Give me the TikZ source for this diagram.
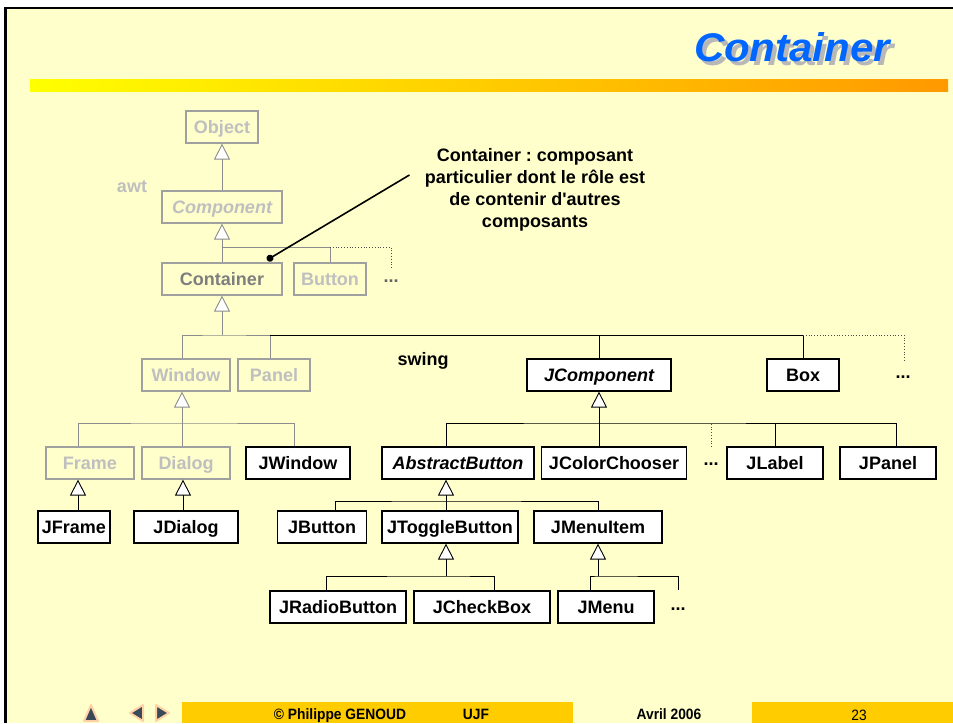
\documentclass[tikz,border=0pt]{standalone}
\usepackage{fontspec}
\setmainfont{Liberation Sans}
\newfontfamily\titlefont[FakeStretch=1.05]{Liberation Sans}
\newfontfamily\footfont[FakeStretch=0.92]{Liberation Sans}
\usetikzlibrary{arrows.meta,positioning,calc}
\definecolor{slide}{HTML}{FFFFCC}
\definecolor{awtline}{HTML}{8C8C8C}
\definecolor{awtframe}{HTML}{A0A0A0}
\definecolor{awttext}{HTML}{BFBFBF}
\definecolor{titleblue}{HTML}{0066FF}
\definecolor{titleshade}{HTML}{B8B8B8}
\definecolor{footbar}{HTML}{FFCC00}
\definecolor{navgray}{HTML}{3B4A58}
\newcommand{\boxfont}{\fontsize{18}{22}\selectfont\bfseries}
\newcommand{\footsize}{\footfont\fontsize{15}{15}\selectfont}
\frenchspacing

\begin{document}
\begin{tikzpicture}
[x=1pt,y=-1pt,
every node/.style={font=\boxfont},
awtbox/.style={draw=awtframe,line width=1.2pt,text=awttext,
minimum height=32pt,inner sep=0pt,text height=13pt,text depth=1pt},
swingbox/.style={draw=black,fill=white,line width=1.2pt,
minimum height=32pt,inner sep=0pt,text height=13pt,text depth=1pt},
inh/.style={-{Triangle[width=16pt,length=16pt,fill=white]}},
awtlink/.style={draw=awtline,line width=0.9pt},
swlink/.style={draw=black,line width=0.9pt},
dotlink/.style={draw=black!70,dotted,line width=0.8pt},
foot/.style={anchor=base,font=\footsize\bfseries},
navtip/.style={draw=orange!35,line width=2pt,fill=navgray,line join=round}]
\useasboundingbox (0,0) rectangle (953,723);
\fill[white] (0,0) rectangle (953,723);
\fill[slide] (6,9) rectangle (953,723);
\draw[line width=2.5pt] (5.5,723) -- (5.5,8) -- (953,8);
\shade[left color=yellow,right color={rgb,255:red,255;green,153;blue,0}] (30,79) rectangle (948,91);

\node[text=titleblue,font=\titlefont\fontsize{40}{40}\selectfont\bfseries\itshape] (title) at (792,49)
{\rlap{\kern4pt\raisebox{-4pt}{\color{titleshade}Container}}Container};

\node (obj) at (222,127) [awtbox,minimum width=72pt] {Object};
\node (comp) at (222,207) [awtbox,minimum width=120pt] {\itshape Component};
\node (cont) at (222,279) [awtbox,minimum width=120pt,text=awtline!90!black] {Container};
\node (button) at (330,279) [awtbox,minimum width=72pt] {Button};
\node (awtdots) at (391,281) [text=awtline!70!black] {...};
\node (awt) at (132,187) [text=awttext] {awt};

\node (window) at (186,375) [awtbox,minimum width=88pt] {Window};
\node (panel) at (274,375) [awtbox,minimum width=72pt] {Panel};
\node (swing) at (423,361) {swing};
\node (jcomp) at (599,375) [swingbox,minimum width=144pt] {\itshape JComponent};
\node (box) at (803,375) [swingbox,minimum width=72pt] {Box};
\node (swdots) at (903,377) {...};

\node (frame) at (90,463) [awtbox,minimum width=88pt] {Frame};
\node (dialog) at (186,463) [awtbox,minimum width=88pt] {Dialog};
\node (jwindow) at (298,463) [swingbox,minimum width=104pt] {JWindow};
\node (abutton) at (458,463) [swingbox,minimum width=152pt] {\itshape AbstractButton};
\node (jcolor) at (614,463) [swingbox,minimum width=145pt] {JColorChooser};
\node (jcdots) at (711,464) {...};
\node (jlabel) at (775,463) [swingbox,minimum width=96pt] {JLabel};
\node (jpanel) at (888,463) [swingbox,minimum width=96pt] {JPanel};

\node (jframe) at (74,527) [swingbox,minimum width=72pt] {JFrame};
\node (jdialog) at (186,527) [swingbox,minimum width=104pt] {JDialog};
\node (jbutton) at (322,527) [swingbox,minimum width=89pt] {JButton};
\node (jtoggle) at (450,527) [swingbox,minimum width=136pt] {JToggleButton};
\node (jmenuitem) at (598,527) [swingbox,minimum width=128pt] {JMenuItem};

\node (jradio) at (338,607) [swingbox,minimum width=136pt] {JRadioButton};
\node (jcheck) at (482,607) [swingbox,minimum width=136pt] {JCheckBox};
\node (jmenu) at (606,607) [swingbox,minimum width=96pt] {JMenu};
\node (menudots) at (678,609) {...};

\node (note) at (535,190) [align=center] {Container : composant\\particulier dont le rôle est\\de contenir d\textquotesingle autres\\composants};

\coordinate (bcomp) at (222,247);
\coordinate (bcont) at (222,335);
\coordinate (bwin) at (182,423);
\coordinate (bjc) at (599,423);
\coordinate (bab) at (446,501);
\coordinate (btog) at (446,576);
\coordinate (bmenu) at (598,576);
\coordinate (moreawt) at (391,269);
\coordinate (moreswing) at (904,362);
\coordinate (morejc) at (711,447);
\coordinate (moremenu) at (678,590);
\coordinate (pin) at (267,260);

\draw[awtlink,inh] (comp.north) -- (obj.south);
\draw[awtlink,inh] (bcomp) -- (comp.south);
\draw[awtlink] (cont.north) |- (bcomp) -| (button.north);
\draw[dotlink] (bcomp -| button.north) -| (moreawt);

\draw[awtlink,inh] (bcont) -- (cont.south);
\draw[awtlink] ([xshift=-4pt]window.north) |- (bcont) -| ([xshift=-4pt]panel.north);
\draw[swlink] ([xshift=-4pt]panel.north |- bcont) -| (box.north);
\draw[swlink] (jcomp.north) -- (jcomp.north |- bcont);
\draw[dotlink] (box.north |- bcont) -| (moreswing);

\draw[awtlink,inh] (bwin) -- ([xshift=-4pt]window.south);
\draw[awtlink] ([xshift=-12pt]frame.north) |- (bwin) -| ([xshift=-4pt]jwindow.north);
\draw[awtlink] (dialog.north -| bwin) -- (bwin);
\draw[swlink,inh] ([xshift=4pt]jframe.north) -- ([xshift=-12pt]frame.south);
\draw[swlink,inh] ([xshift=-3pt]jdialog.north) -- ([xshift=-3pt]dialog.south);

\draw[swlink,inh] (bjc) -- (jcomp.south);
\draw[swlink] ([xshift=-12pt]abutton.north) |- (bjc) -| ([xshift=8pt]jpanel.north);
\draw[swlink] (jcolor.north -| bjc) -- (bjc);
\draw[swlink] (jlabel.north) -- (jlabel.north |- bjc);
\draw[dotlink] (morejc) -- (morejc |- bjc);

\draw[swlink,inh] (bab) -- ([xshift=-12pt]abutton.south);
\draw[swlink] ([xshift=13pt]jbutton.north) |- (bab) -| (jmenuitem.north);
\draw[swlink] ([xshift=-4pt]jtoggle.north) -- (bab);

\draw[swlink,inh] (btog) -- ([xshift=-4pt]jtoggle.south);
\draw[swlink] ([xshift=-12pt]jradio.north) |- (btog) -| ([xshift=12pt]jcheck.north);
\draw[swlink,inh] (bmenu) -- (jmenuitem.south);
\draw[swlink] ([xshift=-16pt]jmenu.north) |- (bmenu) -| (moremenu);

\draw[line width=1.6pt,-{Circle[length=7pt]}] ([shift={(-12,-15)}]note.west) -- (pin);

\fill[footbar] (182,702) rectangle (573,723);
\fill[footbar] (752,702) rectangle (953,723);
\node (author) at (340,719) [foot] {© Philippe GENOUD};
\node (ujf) at (476,719) [foot] {UJF};
\node (date) at (669,719) [foot] {Avril 2006};
\node (page) at (859,720) [foot,font=\footsize] {23};
\filldraw[navtip] (84,721) -- (98,721) -- (91,705) -- cycle;
\filldraw[navtip] (130,713) -- (143,705) -- (143,721) -- cycle;
\filldraw[navtip] (156,705) -- (156,721) -- (169,713) -- cycle;
\end{tikzpicture}
\end{document}
